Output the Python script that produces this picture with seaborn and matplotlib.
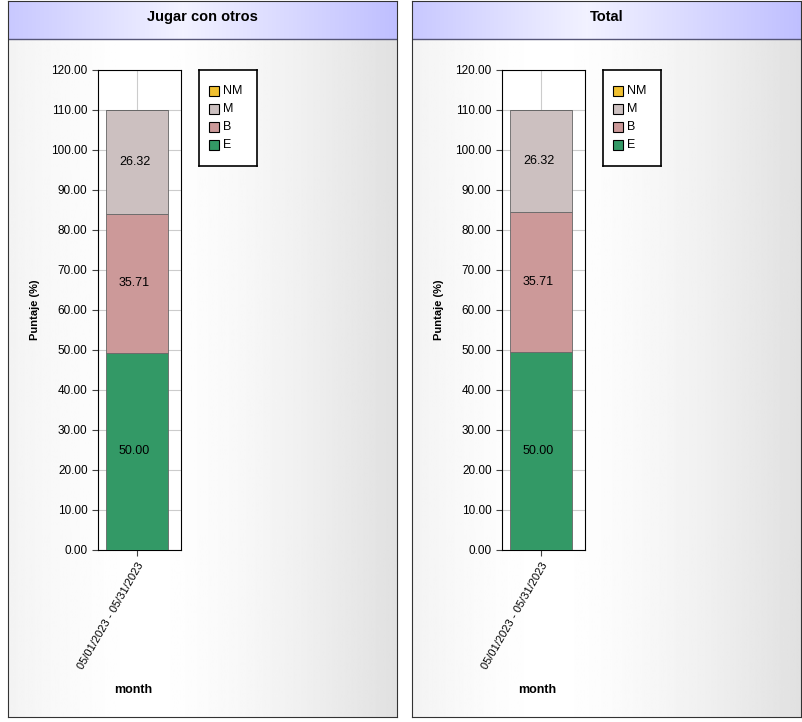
import numpy as np
import pandas as pd
import matplotlib
matplotlib.use("Agg")
import matplotlib.pyplot as plt
import seaborn as sns
from matplotlib.patches import Rectangle

# datos
titles = ["Jugar con otros", "Total"]
period = ["05/01/2023 - 05/31/2023"]
series = ["E", "B", "M", "NM"]
colors = {"E": "#339966", "B": "#cc9999", "M": "#ccc0c0", "NM": "#f0c030"}
heights_left = [49.3, 34.7, 26.0, 0.0]
heights_right = [49.5, 35.0, 25.5, 0.0]
labels_left = ["50.00", "35.71", "26.32", ""]
labels_right = ["50.00", "35.71", "26.32", ""]
yticks = np.arange(0, 121, 10)

W, H = 803, 722
fig = plt.figure(figsize=(W / 100, H / 100), dpi=100)
fig.patch.set_facecolor("white")

def fx(px): return px / W
def fy(py): return 1 - py / H

def panel(x0, x1, title, heights, labels):
    # fondo con degradado
    bg = fig.add_axes([fx(x0), fy(717), fx(x1 - x0), (717 - 1) / H], zorder=0)
    g = np.linspace(0, 1, 256)
    grad = 1 - 0.12 * (np.abs(g - 0.35) / 0.65) ** 1.5
    bg.imshow(np.tile(grad, (2, 1)), cmap="gray", vmin=0, vmax=1, aspect="auto",
              extent=[0, 1, 0, 1])
    hb = np.linspace(0, 1, 256)
    head = np.zeros((2, 256, 3))
    hcol = 1 - 0.5 * np.abs(hb - 0.45) / 0.55
    head[:, :, 0] = 0.55 + 0.4 * hcol
    head[:, :, 1] = 0.55 + 0.4 * hcol
    head[:, :, 2] = 1.0
    hh = 38 / 716
    bg.imshow(head, aspect="auto", extent=[0, 1, 1 - hh, 1])
    bg.plot([0, 1], [1 - hh, 1 - hh], color="#555577", lw=1)
    bg.set_xlim(0, 1); bg.set_ylim(0, 1)
    bg.set_xticks([]); bg.set_yticks([])
    for s in bg.spines.values():
        s.set_color("#333333")
    bg.text(0.5, 1 - hh / 2 + 0.004, title, ha="center", va="center", fontsize=10.5,
            fontweight="bold", family="Liberation Sans")

    ax = fig.add_axes([fx(x0 + 90), fy(550), fx(83), 480 / H], zorder=2)
    ax.set_facecolor("white")
    df = pd.DataFrame({"period": period * len(series), "serie": series,
                       "value": heights})
    bottom = 0.0
    for s, h, lab in zip(series, heights, labels):
        sub = df[df["serie"] == s]
        sns.barplot(data=sub, x="period", y="value", color=colors[s],
                    bottom=bottom, width=0.74, ax=ax, saturation=1,
                    edgecolor="#666666", linewidth=0.6, zorder=3)
        if lab:
            ax.text(-0.03, bottom + h / 2, lab, ha="center", va="center",
                    fontsize=9, family="Liberation Sans", zorder=4)
        bottom += h
    ax.set_ylim(0, 120)
    ax.set_xlim(-0.47, 0.53)
    ax.set_yticks(yticks)
    ax.set_yticklabels([f"{v:.2f}" for v in yticks], fontsize=8.5,
                       family="Liberation Sans")
    ax.set_xticks([0])
    ax.set_xticklabels(period, rotation=60, ha="right", fontsize=8,
                       family="Liberation Sans", rotation_mode="anchor")
    ax.grid(True, color="#cccccc", lw=0.8, zorder=0)
    ax.set_axisbelow(True)
    ax.set_ylabel("Puntaje (%)", fontsize=8, fontweight="bold",
                  family="Liberation Sans", labelpad=8)
    ax.set_xlabel("")
    for s in ax.spines.values():
        s.set_color("black")
    ax.tick_params(length=4, color="#444444")
    fig.text(fx(x0 + 125), fy(690), "month", ha="center", va="center",
             fontsize=9, fontweight="bold", family="Liberation Sans")

    # leyenda
    lg = fig.add_axes([fx(x0 + 191), fy(166), fx(58), 96 / H], zorder=2)
    lg.set_xlim(0, 58); lg.set_ylim(96, 0)
    lg.set_facecolor("white")
    lg.set_xticks([]); lg.set_yticks([])
    for s in lg.spines.values():
        s.set_linewidth(1.2)
    for i, s in enumerate(["NM", "M", "B", "E"]):
        y = 21 + i * 18
        lg.add_patch(Rectangle((10, y - 5), 10, 10, facecolor=colors[s],
                               edgecolor="black", lw=0.8))
        lg.text(24, y, s, va="center", fontsize=9, family="Liberation Sans")

panel(8, 397, titles[0], heights_left, labels_left)
panel(412, 801, titles[1], heights_right, labels_right)

fig.savefig("out.png", dpi=100)
